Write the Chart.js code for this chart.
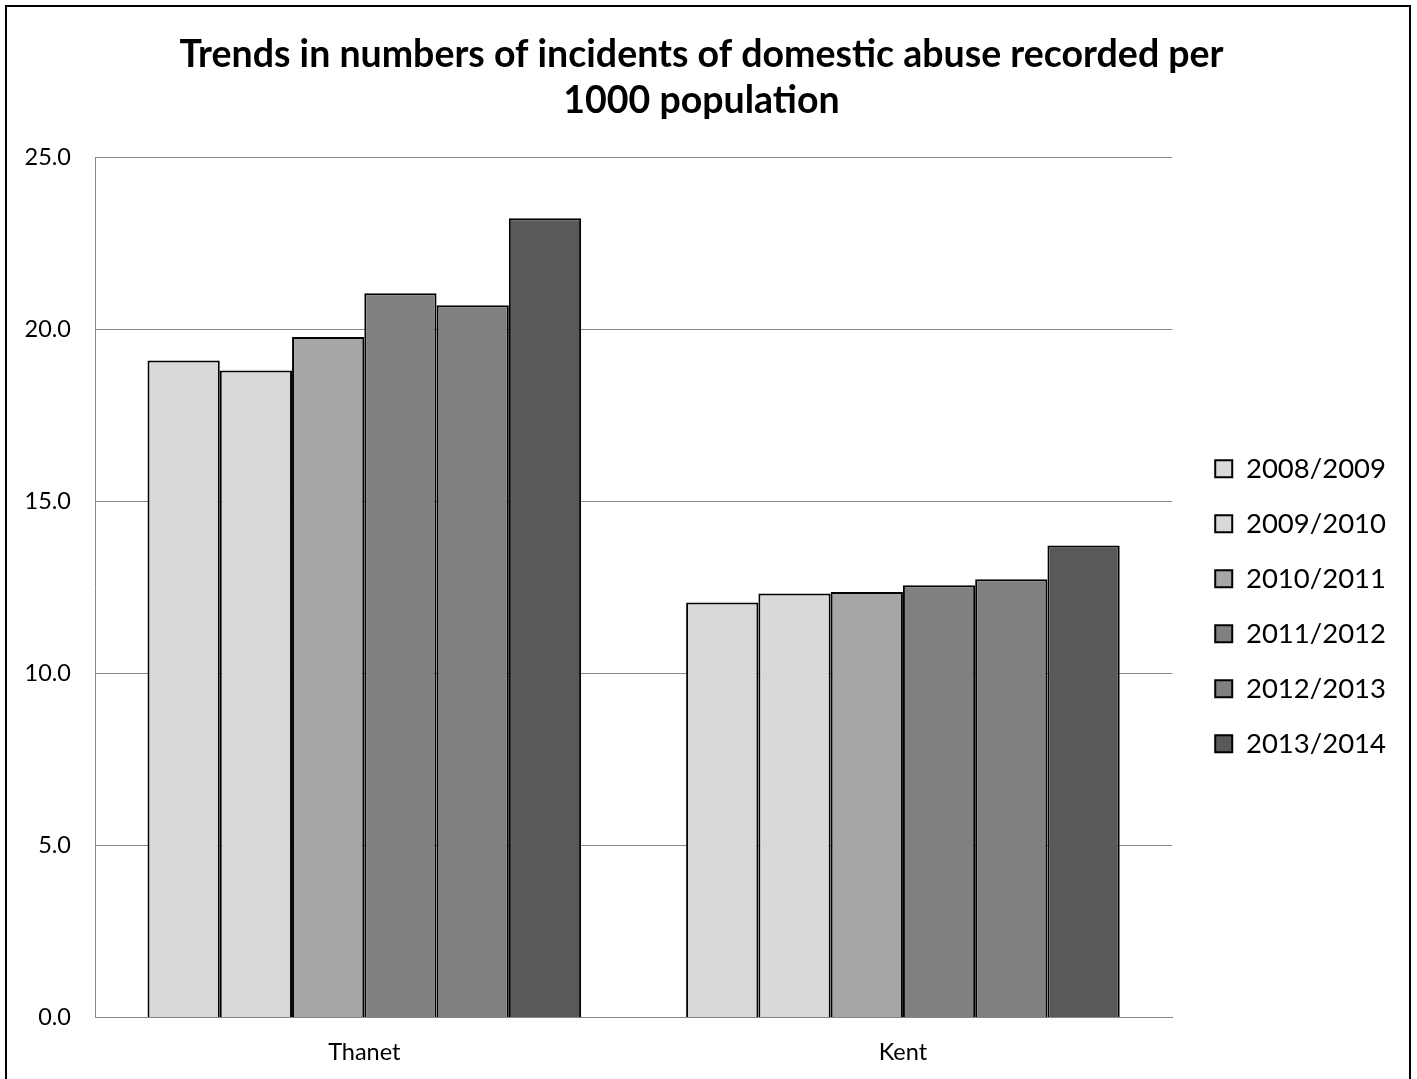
<!DOCTYPE html>
<html>
<head>
<meta charset="utf-8">
<title>Domestic abuse incidents per 1000 population</title>
<script src="https://cdn.jsdelivr.net/npm/chart.js@4/dist/chart.umd.min.js"></script>
<style>
    html, body { margin: 0; padding: 0; background: #fff; overflow: hidden; }
    #frame {
        position: absolute;
        left: 5px;
        top: 5px;
        width: 1402px;
        height: 1100px;
        border: 2px solid #000;
        background: #fff;
    }
    #chart { display: block; }
</style>
</head>
<body>
<div id="frame">
    <canvas id="chart" width="1402" height="1072"></canvas>
</div>
<script>
// areas on the x axis
const areas = ["Thanet", "Kent"];

// one series per financial year
const years = ["2008/2009", "2009/2010", "2010/2011", "2011/2012", "2012/2013", "2013/2014"];

// incidents recorded per 1000 population, in the same order as years
const thanetRates = [19.09, 18.80, 19.77, 21.04, 20.69, 23.22];
const kentRates = [12.06, 12.32, 12.36, 12.56, 12.73, 13.71];

// y axis range
const yMin = 0;
const yMax = 25;
const yStep = 5;

const fills = ["#d9d9d9", "#d9d9d9", "#a6a6a6", "#808080", "#808080", "#595959"];
const font = "Lato, 'Liberation Sans', sans-serif";
const gridGrey = "#868686";

const datasets = years.map((year, i) => ({
    label: year,
    data: [thanetRates[i], kentRates[i]],
    backgroundColor: fills[i],
    borderColor: "#000",
    borderWidth: 2,
    categoryPercentage: 0.805,
    barPercentage: 1.0
}));

new Chart(document.getElementById("chart"), {
    type: "bar",
    data: {
        labels: areas,
        datasets: datasets
    },
    options: {
        responsive: false,
        animation: false,
        events: [],
        layout: {
            padding: { left: 0, right: 13, top: 0, bottom: 0 }
        },
        plugins: {
            title: {
                display: true,
                text: [
                    "Trends in numbers of incidents of domestic abuse recorded per",
                    "1000 population"
                ],
                color: "#000",
                font: { family: font, size: 37.5, weight: "bold", lineHeight: "46px" },
                padding: { top: 25, bottom: 33 }
            },
            legend: {
                position: "right",
                // blank title only pushes the key down beside the plot
                title: {
                    display: true,
                    text: "",
                    font: { size: 1, lineHeight: 1 },
                    padding: { top: 125.7, bottom: 0 }
                },
                labels: {
                    color: "#000",
                    font: { family: font, size: 27.5 },
                    boxWidth: 17,
                    boxHeight: 17,
                    padding: 27.5
                }
            },
            tooltip: { enabled: false }
        },
        scales: {
            x: {
                grid: { display: false },
                border: { display: true, color: gridGrey, width: 1 },
                ticks: {
                    color: "#000",
                    font: { family: font, size: 23.5 },
                    padding: 13
                },
                afterFit: (scale) => { scale.height = 61.5; }
            },
            y: {
                min: yMin,
                max: yMax,
                grid: { color: gridGrey, lineWidth: 1, drawTicks: false },
                border: { display: true, color: gridGrey, width: 1 },
                ticks: {
                    stepSize: yStep,
                    color: "#000",
                    font: { family: font, size: 23.5 },
                    padding: 24,
                    callback: (v) => v.toFixed(1)
                },
                afterFit: (scale) => { scale.width = 88; }
            },
            // empty strip that keeps the legend off the plot area
            gap: {
                type: "linear",
                position: "right",
                grid: { display: false, drawTicks: false },
                border: { display: false },
                ticks: { display: false },
                afterFit: (scale) => { scale.width = 15.5; }
            }
        }
    }
});
</script>
</body>
</html>
